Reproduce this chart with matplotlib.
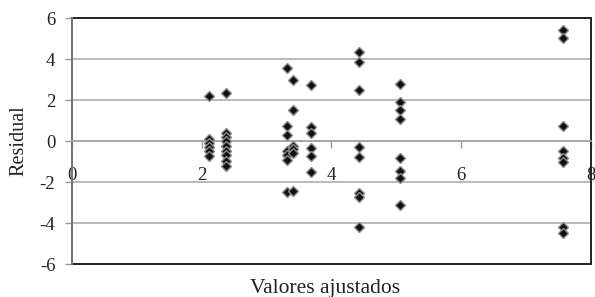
import matplotlib
matplotlib.use("Agg")
import matplotlib.pyplot as plt
from matplotlib.patches import Rectangle

# Fitted values (x) and residuals (y), grouped by column
x_a = [2.12] * 6
y_a = [2.2, 0.1, -0.1, -0.3, -0.5, -0.75]
x_b = [2.38] * 9
y_b = [2.35, 0.4, 0.2, -0.02, -0.23, -0.47, -0.68, -0.95, -1.2]
x_c = [3.31] * 7
y_c = [3.55, 0.75, 0.3, -0.5, -0.7, -0.9, -2.47]
x_c2 = [3.4] * 6
y_c2 = [3.0, 1.5, -0.22, -0.4, -0.6, -2.45]
x_d = [3.68] * 6
y_d = [2.73, 0.7, 0.37, -0.36, -0.72, -1.53]
x_e = [4.42] * 8
y_e = [4.36, 3.87, 2.49, -0.31, -0.8, -2.55, -2.72, -4.21]
x_f = [5.05] * 8
y_f = [2.78, 1.92, 1.51, 1.06, -0.85, -1.45, -1.79, -3.12]
x_g = [7.57] * 8
y_g = [5.4, 5.05, 0.73, -0.5, -0.85, -1.0, -4.2, -4.5]

xs = x_a + x_b + x_c + x_c2 + x_d + x_e + x_f + x_g
ys = y_a + y_b + y_c + y_c2 + y_d + y_e + y_f + y_g

x_ticks = [0, 2, 4, 6, 8]
y_ticks = [-6, -4, -2, 0, 2, 4, 6]

plt.rcParams['font.family'] = ['Liberation Serif', 'DejaVu Serif']

fig = plt.figure(figsize=(5.95, 2.97), dpi=100)
ax = fig.add_axes([0.121, 0.111, 0.872, 0.828])

ax.set_xlim(0, 8)
ax.set_ylim(-6, 6)

for yt in y_ticks:
    if yt not in (-6, 6, 0):
        ax.axhline(yt, color='#b4b4b4', lw=1.3, zorder=1)

ax.plot(xs, ys, linestyle='none', marker='D', ms=5.0, mfc='#111111',
        mec='#8a8a8a', mew=1.0, zorder=3)

# frame
ax.add_patch(Rectangle((0, 0), 1, 1, transform=ax.transAxes, fill=False,
                       ec='#222222', lw=1.4, zorder=2, clip_on=False))

for s in ['top', 'right']:
    ax.spines[s].set_visible(False)
ax.spines['left'].set_color('#777777')
ax.spines['left'].set_linewidth(1.4)
ax.spines['left'].set_zorder(2.5)
ax.spines['bottom'].set_position(('data', 0))
ax.spines['bottom'].set_color('#a0a0a0')
ax.spines['bottom'].set_linewidth(1.3)

ax.set_xticks(x_ticks)
ax.set_yticks(y_ticks)
ax.set_yticklabels([str(v) for v in y_ticks])
ax.tick_params(axis='y', length=5, width=1, color='#999999', pad=7,
               labelsize=13.5, labelcolor='#222222')
ax.tick_params(axis='x', length=5, width=1, color='#999999', pad=14,
               labelsize=13.5, labelcolor='#222222')

ax.set_ylabel('Residual', fontsize=14.5, color='#222222', labelpad=8)
ax.set_xlabel('')
fig.text(0.547, 0.015, 'Valores ajustados', fontsize=15.5, color='#222222',
         ha='center', va='baseline')

fig.savefig('out.png', dpi=100)
